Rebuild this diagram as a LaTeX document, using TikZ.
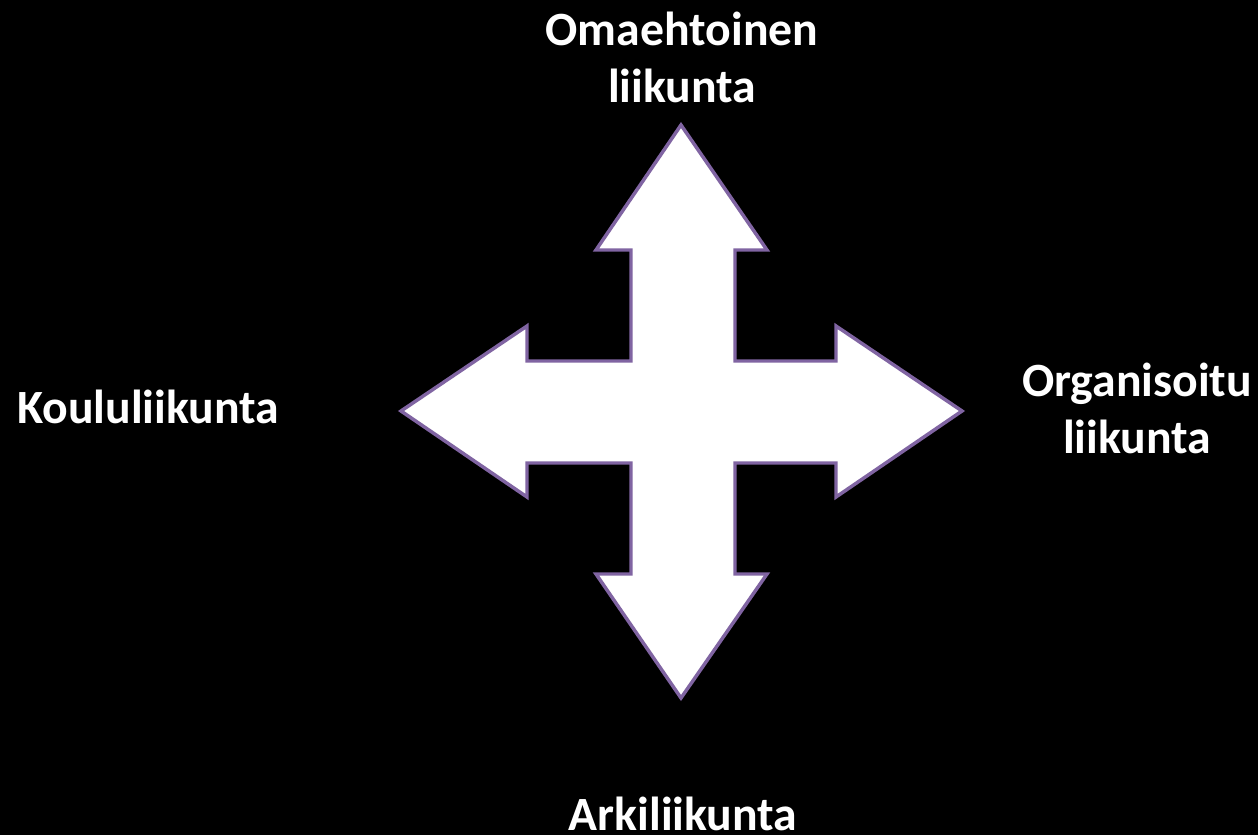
\documentclass[tikz,border=0pt]{standalone}
\usepackage{fontspec}
\setmainfont{Carlito}
\definecolor{arrowpurple}{HTML}{8064A2}
\begin{document}
\begin{tikzpicture}[x=0.75pt,y=-0.75pt,
  lbl/.style={text=white,font=\bfseries\fontsize{35.8}{42.75}\selectfont,align=center,inner sep=0pt},
  cross/.style={fill=white,draw=arrowpurple,line width=2.6pt,line join=miter}]
\fill[black] (0,0) rectangle (1258,835);
\useasboundingbox (0,0) rectangle (1258,835);
\draw[cross] (681,125) -- (767,250) -- (735,250) -- (735,361) -- (836,361) -- (836,326)
  -- (962,411) -- (836,497) -- (836,463) -- (735,463) -- (735,574) -- (767,574)
  -- (681,698) -- (596,574) -- (631,574) -- (631,463) -- (527,463) -- (527,497)
  -- (401,411) -- (527,326) -- (527,361) -- (631,361) -- (631,250) -- (596,250) -- cycle;
\node[lbl] (top) at (682,57) {Omaehtoinen\\liikunta};
\node[lbl] (right) at (1137,408) {Organisoitu\\liikunta};
\node[lbl] (left) at (148,407) {Koululiikunta};
\node[lbl] (bottom) at (683,814) {Arkiliikunta};
\end{tikzpicture}
\end{document}
